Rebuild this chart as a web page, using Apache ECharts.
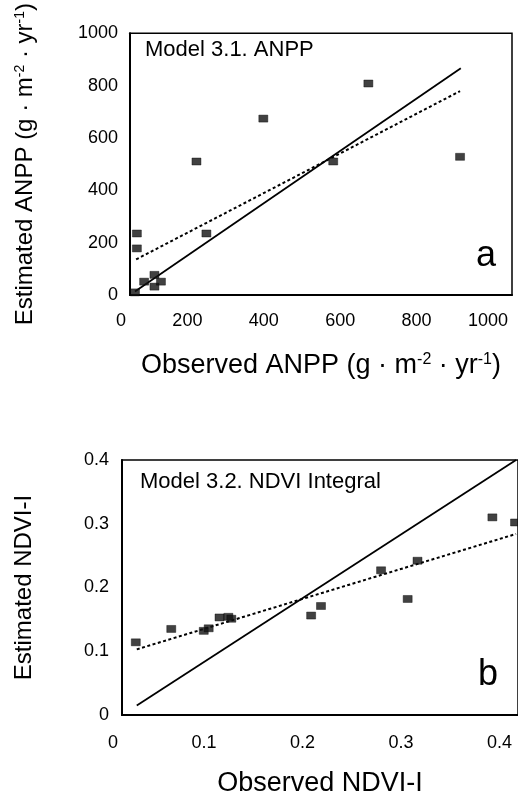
<!DOCTYPE html>
<html>
<head>
<meta charset="utf-8">
<script src="https://cdn.jsdelivr.net/npm/echarts@6/dist/echarts.min.js"></script>
<style>
html,body{margin:0;padding:0;background:#fff;overflow:hidden;}
#chart{width:518px;height:798px;}
</style>
</head>
<body>
<div id="chart"></div>
<script>
// ---- Panel a: Model 3.1. ANPP ----
const anppObserved  = [13, 37, 64, 64, 81, 18, 18, 200, 174, 532, 349, 624, 864];
const anppEstimated = [10, 51, 77, 32, 51, 235, 178, 235, 510, 510, 674, 808, 528];
const anppOneToOneX = [13, 866];
const anppOneToOneY = [13, 866];
const anppFitX = [16, 864];
const anppFitY = [136, 779];
const anppTicks = [0, 200, 400, 600, 800, 1000];

// ---- Panel b: Model 3.2. NDVI Integral ----
const ndviObserved  = [0.014, 0.050, 0.083, 0.088, 0.099, 0.108, 0.111, 0.192, 0.202, 0.263, 0.290, 0.300, 0.376, 0.399];
const ndviEstimated = [0.114, 0.135, 0.132, 0.136, 0.153, 0.154, 0.151, 0.156, 0.171, 0.227, 0.182, 0.242, 0.310, 0.302];
const ndviOneToOneX = [0.015, 0.4];
const ndviOneToOneY = [0.015, 0.4];
const ndviFitX = [0.015, 0.4];
const ndviFitY = [0.103, 0.284];
const ndviTicks = [0, 0.1, 0.2, 0.3, 0.4];

const FONT = "'Liberation Sans', Arial, Helvetica, sans-serif";
const pairs = (xs, ys) => xs.map((x, i) => [x, ys[i]]);

const chart = echarts.init(document.getElementById('chart'), null, {renderer: 'canvas'});

function titleRich(size) {
  return {
    t: {fontSize: size, fontFamily: FONT, color: '#000'},
    s: {fontSize: Math.round(size * 0.58), fontFamily: FONT, color: '#000', verticalAlign: 'top', lineHeight: Math.round(size * 0.62)}
  };
}

const axisLbl = (extra) => Object.assign({
  color: '#000', fontFamily: FONT, fontSize: 18
}, extra);

const option = {
  animation: false,
  backgroundColor: '#fff',
  grid: [
    {left: 130, top: 33, width: 382, height: 262, show: true, borderColor: '#000', borderWidth: 1.5, containLabel: false},
    {left: 122, top: 460, width: 398, height: 256, show: true, borderColor: '#000', borderWidth: 1.5, containLabel: false}
  ],
  xAxis: [
    {
      gridIndex: 0, type: 'value',
      min: anppTicks[0], max: anppTicks[anppTicks.length - 1], interval: anppTicks[1] - anppTicks[0],
      axisLine: {show: true, onZero: false, lineStyle: {color: '#000', width: 2}},
      axisTick: {show: false}, splitLine: {show: false},
      axisLabel: axisLbl({margin: 17, align: 'right', padding: [0, 4, 0, 0], formatter: v => String(v)}),
      name: '{t|Observed ANPP (g · m}{s|-2}{t| · yr}{s|-1}{t|)}',
      nameLocation: 'middle', nameGap: 57,
      nameTextStyle: {fontSize: 27, fontFamily: FONT, color: '#000', rich: titleRich(27)}
    },
    {
      gridIndex: 1, type: 'value',
      min: ndviTicks[0], max: 0.402, interval: ndviTicks[1] - ndviTicks[0],
      axisLine: {show: true, onZero: false, lineStyle: {color: '#000', width: 2}},
      axisTick: {show: false}, splitLine: {show: false},
      axisLabel: axisLbl({margin: 19, align: 'right', padding: [0, 4, 0, 0],
        formatter: v => String(+v.toFixed(1))}),
      name: 'Observed NDVI-I',
      nameLocation: 'middle', nameGap: 55,
      nameTextStyle: {fontSize: 27, fontFamily: FONT, color: '#000'}
    }
  ],
  yAxis: [
    {
      gridIndex: 0, type: 'value',
      min: anppTicks[0], max: anppTicks[anppTicks.length - 1], interval: anppTicks[1] - anppTicks[0],
      axisLine: {show: true, onZero: false, lineStyle: {color: '#000', width: 2}},
      axisTick: {show: false}, splitLine: {show: false},
      axisLabel: axisLbl({margin: 12, formatter: v => String(v)}),
      name: '{t|Estimated ANPP (g · m}{s|-2}{t| · yr}{s|-1}{t|)}',
      nameLocation: 'middle', nameGap: 93,
      nameTextStyle: {fontSize: 24, fontFamily: FONT, color: '#000', rich: titleRich(24)}
    },
    {
      gridIndex: 1, type: 'value',
      min: ndviTicks[0], max: ndviTicks[ndviTicks.length - 1], interval: ndviTicks[1] - ndviTicks[0],
      axisLine: {show: true, onZero: false, lineStyle: {color: '#000', width: 2}},
      axisTick: {show: false}, splitLine: {show: false},
      axisLabel: axisLbl({margin: 13, formatter: v => String(+v.toFixed(1))}),
      name: 'Estimated NDVI-I',
      nameLocation: 'middle', nameGap: 86,
      nameTextStyle: {fontSize: 24, fontFamily: FONT, color: '#000'}
    }
  ],
  series: [
    {
      type: 'line', xAxisIndex: 0, yAxisIndex: 0, z: 2,
      data: pairs(anppOneToOneX, anppOneToOneY), showSymbol: false, symbol: 'none',
      lineStyle: {color: '#000', width: 1.8, type: 'solid'}
    },
    {
      type: 'line', xAxisIndex: 0, yAxisIndex: 0, z: 2,
      data: pairs(anppFitX, anppFitY), showSymbol: false, symbol: 'none',
      lineStyle: {color: '#000', width: 2, type: [3, 2.5]}
    },
    {
      type: 'scatter', xAxisIndex: 0, yAxisIndex: 0, z: 5,
      data: pairs(anppObserved, anppEstimated),
      symbol: 'rect', symbolSize: [9, 7],
      itemStyle: {color: '#111', borderColor: '#000', borderWidth: 0.5}
    },
    {
      type: 'line', xAxisIndex: 1, yAxisIndex: 1, z: 2,
      data: pairs(ndviOneToOneX, ndviOneToOneY), showSymbol: false, symbol: 'none',
      lineStyle: {color: '#000', width: 1.8, type: 'solid'}
    },
    {
      type: 'line', xAxisIndex: 1, yAxisIndex: 1, z: 2,
      data: pairs(ndviFitX, ndviFitY), showSymbol: false, symbol: 'none',
      lineStyle: {color: '#000', width: 2, type: [3, 2.5]}
    },
    {
      type: 'scatter', xAxisIndex: 1, yAxisIndex: 1, z: 5,
      data: pairs(ndviObserved, ndviEstimated),
      symbol: 'rect', symbolSize: [9, 7],
      itemStyle: {color: '#111', borderColor: '#000', borderWidth: 0.5}
    }
  ],
  graphic: [
    {type: 'text', x: 145, y: 50, z: 10,
     style: {text: 'Model 3.1. ANPP', font: '22px ' + FONT, fill: '#000',
             align: 'left', verticalAlign: 'middle', textAlign: 'left', textVerticalAlign: 'middle'}},
    {type: 'text', x: 140, y: 482, z: 10,
     style: {text: 'Model 3.2. NDVI Integral', font: '22px ' + FONT, fill: '#000',
             align: 'left', verticalAlign: 'middle', textAlign: 'left', textVerticalAlign: 'middle'}},
    {type: 'text', x: 486, y: 256, z: 10,
     style: {text: 'a', font: '36px ' + FONT, fill: '#000',
             align: 'center', verticalAlign: 'middle', textAlign: 'center', textVerticalAlign: 'middle'}},
    {type: 'text', x: 488, y: 675, z: 10,
     style: {text: 'b', font: '36px ' + FONT, fill: '#000',
             align: 'center', verticalAlign: 'middle', textAlign: 'center', textVerticalAlign: 'middle'}}
  ]
};
chart.setOption(option);
</script>
</body>
</html>
